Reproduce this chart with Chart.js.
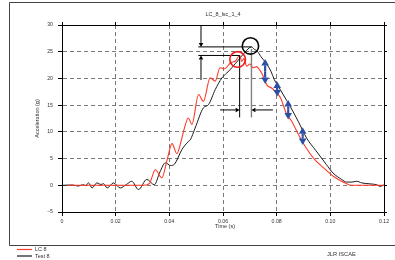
<!DOCTYPE html>
<html>
<head>
<meta charset="utf-8">
<script src="https://cdn.jsdelivr.net/npm/chart.js@4"></script>
<style>
  html, body { margin: 0; padding: 0; background: #fff; }
  canvas { display: block; }
</style>
</head>
<body>
<canvas id="chart" width="395" height="260"></canvas>
<script>
// DATA (time in s, acceleration in g)
const lcTime = [0.002, 0.010, 0.020, 0.030, 0.0325, 0.0348, 0.0372, 0.0392, 0.0410, 0.0428,
  0.0445, 0.0455, 0.0471, 0.0484, 0.0509, 0.0527, 0.0552, 0.0571, 0.0589, 0.0605,
  0.0630, 0.0645, 0.0662, 0.0670, 0.0678, 0.0688, 0.0700, 0.0712, 0.0725, 0.0737,
  0.0750, 0.0763, 0.0781, 0.0800, 0.0815, 0.0838, 0.0856, 0.0881, 0.0906, 0.0937,
  0.0974, 0.1011, 0.1042, 0.1061, 0.1075, 0.110, 0.115, 0.120];
const lcAccel = [0, 0, 0, 0, 0.3, 2.9, 1.4, 4.8, 7.8, 5.9,
  8.5, 10.5, 12.6, 11.4, 17.0, 15.7, 20.1, 19.5, 22.0, 21.8,
  23.0, 23.2, 24.3, 23.2, 23.7, 22.3, 22.7, 22.0, 22.2, 21.6,
  20.4, 18.8, 18.2, 17.3, 16.3, 13.2, 12.0, 9.5, 7.3, 5.1,
  3.3, 1.7, 0.75, 0.3, 0, 0, 0, 0];

const testTime = [0, 0.004, 0.006, 0.0078, 0.0088, 0.0099, 0.0112, 0.0130, 0.0145, 0.0155,
  0.0168, 0.0192, 0.0217, 0.0240, 0.0260, 0.0285, 0.0316, 0.0344, 0.0365, 0.0385,
  0.0405, 0.0420, 0.0447, 0.0471, 0.0478, 0.0496, 0.0527, 0.0546, 0.0571, 0.0596,
  0.0614, 0.0633, 0.0658, 0.0680, 0.0706, 0.0718, 0.0728, 0.0741, 0.0760, 0.0779,
  0.0791, 0.0810, 0.0825, 0.0850, 0.0881, 0.0912, 0.0946, 0.0985, 0.1010, 0.1042,
  0.1061, 0.1080, 0.1098, 0.1117, 0.1148, 0.1173, 0.1185, 0.1200];
const testAccel = [0, 0.05, -0.15, 0.1, -0.05, 0.45, -0.5, 0.45, 0.15, 0.3,
  -0.5, 0.45, -0.5, 0.15, 0.75, -0.8, 1.1, 0.1, 2.5, 4.2,
  3.7, 4.0, 6.7, 8.2, 8.5, 10.7, 14.5, 15.1, 17.9, 20.1,
  21.0, 22.0, 23.5, 24.8, 25.9, 25.4, 25.1, 24.1, 22.9, 21.3,
  19.8, 18.2, 16.9, 14.8, 11.9, 8.8, 6.5, 3.9, 2.3, 1.1,
  0.6, 0.6, 0.75, 0.45, 0.26, 0.1, -0.2, 0.05];

const seriesLabels = ['LC 8', 'Test 8'];
const seriesColors = ['#ff3b2a', '#1a1a1a'];
const xTickLabels = ['0', '0.02', '0.04', '0.06', '0.08', '0.10', '0.12'];
const yTickLabels = ['\u22125', '0', '5', '10', '15', '20', '25', '30'];
const blueArrowTimes = [0.0757, 0.0802, 0.0843, 0.0897];

const toPoints = (ts, vs) => ts.map((t, i) => ({ x: t, y: vs[i] }));

function peakOf(ts, vs) {
  let k = 0;
  vs.forEach((v, i) => { if (v > vs[k]) k = i; });
  return { t: ts[k], g: vs[k] };
}

function valueAt(ts, vs, t) {
  for (let i = 1; i < ts.length; i++) {
    if (ts[i] >= t) {
      const f = (t - ts[i - 1]) / (ts[i] - ts[i - 1]);
      return vs[i - 1] + f * (vs[i] - vs[i - 1]);
    }
  }
  return vs[vs.length - 1];
}

Chart.defaults.font.family = '"Liberation Sans", Arial, sans-serif';

function line(ctx, x1, y1, x2, y2) {
  ctx.beginPath();
  ctx.moveTo(x1, y1);
  ctx.lineTo(x2, y2);
  ctx.stroke();
}

function arrow(ctx, x1, y1, x2, y2, len, half) {
  const a = Math.atan2(y2 - y1, x2 - x1);
  const bx = x2 - Math.cos(a) * len, by = y2 - Math.sin(a) * len;
  line(ctx, x1, y1, bx, by);
  ctx.beginPath();
  ctx.moveTo(x2, y2);
  ctx.lineTo(bx + Math.sin(a) * half, by - Math.cos(a) * half);
  ctx.lineTo(bx - Math.sin(a) * half, by + Math.cos(a) * half);
  ctx.closePath();
  ctx.fill();
}

const decor = {
  id: 'decor',
  afterDatasetsDraw(chart) {
    const { ctx, chartArea: area, scales: { x, y } } = chart;
    const px = t => x.getPixelForValue(t);
    const py = g => y.getPixelForValue(g);
    const rp = peakOf(lcTime, lcAccel);
    const bp = peakOf(testTime, testAccel);
    const leftX = px(0.0508), armX = px(0.0518);
    const dropTo = py(12.7), arrowY = py(14.1);

    ctx.save();
    ctx.strokeStyle = '#000';
    ctx.fillStyle = '#000';
    ctx.lineWidth = 1;
    // peak level lines and drop lines
    line(ctx, leftX, py(bp.g), px(bp.t), py(bp.g));
    line(ctx, leftX, py(rp.g), px(rp.t), py(rp.g));
    line(ctx, px(rp.t), py(rp.g), px(rp.t), dropTo);
    ctx.strokeStyle = '#808080';
    ctx.lineWidth = 1.4;
    line(ctx, px(bp.t), py(bp.g) + 2, px(bp.t), dropTo);

    // black arrows
    ctx.strokeStyle = '#000';
    ctx.lineWidth = 1;
    arrow(ctx, armX, area.top, armX, py(bp.g), 4, 2.3);
    arrow(ctx, armX, py(19.7), armX, py(rp.g), 4, 2.3);
    arrow(ctx, px(0.0589), arrowY, px(rp.t), arrowY, 4, 2.3);
    arrow(ctx, px(0.0786), arrowY, px(bp.t), arrowY, 4, 2.3);

    // circles round the peaks
    ctx.lineWidth = 1.6;
    ctx.strokeStyle = '#ee1c1c';
    ctx.beginPath();
    ctx.arc(px(rp.t) - 2, py(rp.g) + 4, 7.8, 0, Math.PI * 2);
    ctx.stroke();
    ctx.strokeStyle = '#000';
    ctx.beginPath();
    ctx.arc(px(bp.t) - 1, py(bp.g) - 1, 8.2, 0, Math.PI * 2);
    ctx.stroke();

    // blue double arrows between the curves
    ctx.strokeStyle = '#2d4fa3';
    ctx.fillStyle = '#2d4fa3';
    ctx.lineWidth = 2.2;
    blueArrowTimes.forEach(t => {
      const top = py(valueAt(testTime, testAccel, t)) - 3;
      const bot = py(valueAt(lcTime, lcAccel, t)) + 3;
      const mid = (top + bot) / 2;
      arrow(ctx, px(t), mid, px(t), top, 6.5, 3.8);
      arrow(ctx, px(t), mid, px(t), bot, 6.5, 3.8);
    });
    ctx.restore();
  },
  afterDraw(chart) {
    const { ctx, chartArea: area } = chart;
    ctx.save();
    // outer frame
    ctx.strokeStyle = '#444';
    ctx.lineWidth = 1;
    ctx.beginPath();
    ctx.moveTo(395, 2.5);
    ctx.lineTo(9.5, 2.5);
    ctx.lineTo(9.5, 245.5);
    ctx.lineTo(395, 245.5);
    ctx.stroke();

    ctx.fillStyle = '#333';
    ctx.textBaseline = 'middle';
    ctx.textAlign = 'center';
    ctx.font = '5.5px "Liberation Sans", Arial, sans-serif';
    const cx = (area.left + area.right) / 2;
    ctx.fillText('LC_8_lsc_1_4', cx, 14);
    ctx.fillText('Time (s)', cx + 2, 226.5);
    ctx.save();
    ctx.translate(37.5, (area.top + area.bottom) / 2);
    ctx.rotate(-Math.PI / 2);
    ctx.fillText('Acceleration (g)', 0, 0);
    ctx.restore();

    // legend
    ctx.textAlign = 'left';
    chart.data.datasets.forEach((ds, i) => {
      const ly = 249.5 + i * 6.5;
      ctx.strokeStyle = ds.borderColor;
      ctx.lineWidth = 1.2;
      line(ctx, 17, ly, 32, ly);
      ctx.fillText(ds.label, 35, ly);
    });
    ctx.font = '5.7px "Liberation Sans", Arial, sans-serif';
    ctx.fillText('JLR ISCAE', 327, 254.5);
    ctx.restore();
  }
};

const gridDash = [4, 3];

new Chart(document.getElementById('chart'), {
  type: 'line',
  data: {
    datasets: [
      {
        label: seriesLabels[0],
        data: toPoints(lcTime, lcAccel),
        borderColor: seriesColors[0],
        borderWidth: 1.1,
        pointRadius: 0,
        cubicInterpolationMode: 'monotone'
      },
      {
        label: seriesLabels[1],
        data: toPoints(testTime, testAccel),
        borderColor: seriesColors[1],
        borderWidth: 1,
        pointRadius: 0,
        cubicInterpolationMode: 'monotone'
      }
    ]
  },
  options: {
    responsive: false,
    animation: false,
    devicePixelRatio: 1,
    layout: { padding: 0 },
    plugins: {
      legend: { display: false },
      tooltip: { enabled: false }
    },
    scales: {
      x: {
        type: 'linear', position: 'bottom', min: 0, max: 0.12,
        afterFit: s => { s.height = 48; },
        ticks: {
          stepSize: 0.02, autoSkip: false, maxRotation: 0, padding: 2,
          color: '#333', font: { size: 5.2 },
          callback: (v, i) => xTickLabels[i]
        },
        grid: { color: '#6a6a6a', lineWidth: 0.9, tickLength: 4, tickColor: '#000', tickWidth: 1 },
        border: { display: true, color: '#000', width: 1, dash: gridDash }
      },
      x2: {
        type: 'linear', position: 'top', min: 0, max: 0.12,
        afterFit: s => { s.height = 25; },
        ticks: { stepSize: 0.02, display: false },
        grid: { drawOnChartArea: false, tickLength: 3, tickColor: '#000', tickWidth: 1 },
        border: { display: true, color: '#000', width: 1 }
      },
      y: {
        type: 'linear', position: 'left', min: -5, max: 30,
        afterFit: s => { s.width = 62; },
        ticks: {
          stepSize: 5, autoSkip: false, padding: 5,
          color: '#333', font: { size: 5.2 },
          callback: (v, i) => yTickLabels[i]
        },
        grid: { color: '#6a6a6a', lineWidth: 0.9, tickLength: 4, tickColor: '#000', tickWidth: 1 },
        border: { display: true, color: '#000', width: 1, dash: gridDash }
      },
      y2: {
        type: 'linear', position: 'right', min: -5, max: 30,
        afterFit: s => { s.width = 11; },
        ticks: { stepSize: 5, display: false },
        grid: { drawOnChartArea: false, tickLength: 3, tickColor: '#000', tickWidth: 1 },
        border: { display: true, color: '#000', width: 1 }
      }
    }
  },
  plugins: [decor]
});
</script>
</body>
</html>
